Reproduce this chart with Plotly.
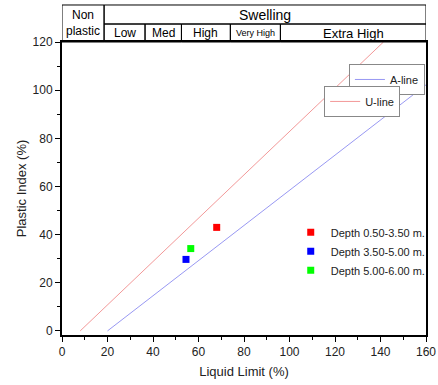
import plotly.graph_objects as go

# A-line and U-line endpoints (Liquid limit, Plastic index)
a_line_ll = [20, 160]
a_line_pi = [0, 102.2]
u_line_ll = [8, 141.3]
u_line_pi = [0, 120]

depth_names = ["Depth 0.50-3.50 m.", "Depth 3.50-5.00 m.", "Depth 5.00-6.00 m."]
depth_ll = [68.0, 54.5, 56.6]
depth_pi = [43.0, 29.7, 34.2]
depth_colors = ["#ff0000", "#0000ff", "#00ff00"]

# Header classification bands (liquid limit boundaries)
band_edges = [0, 18.5, 36.5, 52.5, 74, 96, 160]
band_labels = ["Low", "Med", "High", "Very High", "Extra High"]
band_sizes = [12, 12, 12, 9, 13]

FONT = "Liberation Sans, Arial, sans-serif"

fig = go.Figure()
fig.add_trace(go.Scatter(x=a_line_ll, y=a_line_pi, mode="lines", name="A-line",
                         line=dict(color="#8c8cf0", width=0.9), legend="legend", showlegend=True))
fig.add_trace(go.Scatter(x=u_line_ll, y=u_line_pi, mode="lines", name="U-line",
                         line=dict(color="#f08c8c", width=0.9), legend="legend2", showlegend=True))
for n, x, y, c in zip(depth_names, depth_ll, depth_pi, depth_colors):
    fig.add_trace(go.Scatter(x=[x], y=[y], mode="markers", name=n,
                             marker=dict(symbol="square", size=7, color=c),
                             legend="legend3", showlegend=True))

y0, y1, y2 = 1.0, 1.0614, 1.1263
shapes = []
ann = []
line_style = dict(color="black", width=1)
txt = dict(showarrow=False, xanchor="center", yanchor="middle", xref="x", yref="paper")
# Non plastic cell
shapes.append(dict(type="rect", xref="x", yref="paper", x0=band_edges[0], x1=band_edges[1],
                   y0=y0, y1=y2, line=line_style))
ann.append(dict(x=(band_edges[0] + band_edges[1]) / 2, y=(y0 + y2) / 2,
                text="Non<br>plastic", font=dict(size=12, color="black", family=FONT), **txt))
# Swelling cell
shapes.append(dict(type="rect", xref="x", yref="paper", x0=band_edges[1], x1=band_edges[-1],
                   y0=y1, y1=y2, line=line_style))
ann.append(dict(x=(band_edges[1] + band_edges[-1]) / 2, y=(y1 + y2) / 2,
                text="Swelling", font=dict(size=14, color="black", family=FONT), **txt))
for i, lab in enumerate(band_labels):
    xa, xb = band_edges[i + 1], band_edges[i + 2]
    shapes.append(dict(type="rect", xref="x", yref="paper", x0=xa, x1=xb, y0=y0, y1=y1, line=line_style))
    ann.append(dict(x=(xa + xb) / 2, y=(y0 + y1) / 2, text=lab,
                    font=dict(size=band_sizes[i], color="black", family=FONT), **txt))

axis_common = dict(showline=True, linecolor="black", linewidth=2, mirror=True,
                   ticks="outside", ticklen=5, tickwidth=1, tickcolor="black",
                   showgrid=False, zeroline=False,
                   tickfont=dict(size=12, color="#222", family=FONT))

fig.update_layout(
    width=438, height=385,
    margin=dict(l=62, r=12, t=42, b=50, autoexpand=False),
    plot_bgcolor="white", paper_bgcolor="white",
    showlegend=True,
    font=dict(family=FONT, color="#222"),
    shapes=shapes, annotations=ann,
    xaxis=dict(range=[0, 160], dtick=20, tick0=0,
               minor=dict(dtick=10, ticks="outside", ticklen=3, tickcolor="black"),
               title=dict(text="Liquid Limit (%)", font=dict(size=13, family=FONT), standoff=8),
               **axis_common),
    yaxis=dict(range=[-1.7, 120], dtick=20, tick0=0,
               minor=dict(dtick=10, ticks="outside", ticklen=3, tickcolor="black"),
               title=dict(text="Plastic Index (%)", font=dict(size=13, family=FONT), standoff=3),
               **axis_common),
    legend=dict(x=0.997, y=0.925, xanchor="right", yanchor="top", bgcolor="white",
                bordercolor="#888", borderwidth=1, font=dict(size=11, family=FONT),
                itemwidth=30, tracegroupgap=0),
    legend2=dict(x=0.929, y=0.85, xanchor="right", yanchor="top", bgcolor="white",
                 bordercolor="#888", borderwidth=1, font=dict(size=11, family=FONT),
                 itemwidth=30, tracegroupgap=0),
    legend3=dict(x=1.013, y=0.40, xanchor="right", yanchor="top", bgcolor="rgba(0,0,0,0)",
                 borderwidth=0, font=dict(size=11, family=FONT), itemwidth=30, tracegroupgap=0),
)

fig.write_html("out.html", config={"displayModeBar": False},
               post_script="document.body.style.margin='0';document.body.style.overflow='hidden';")
